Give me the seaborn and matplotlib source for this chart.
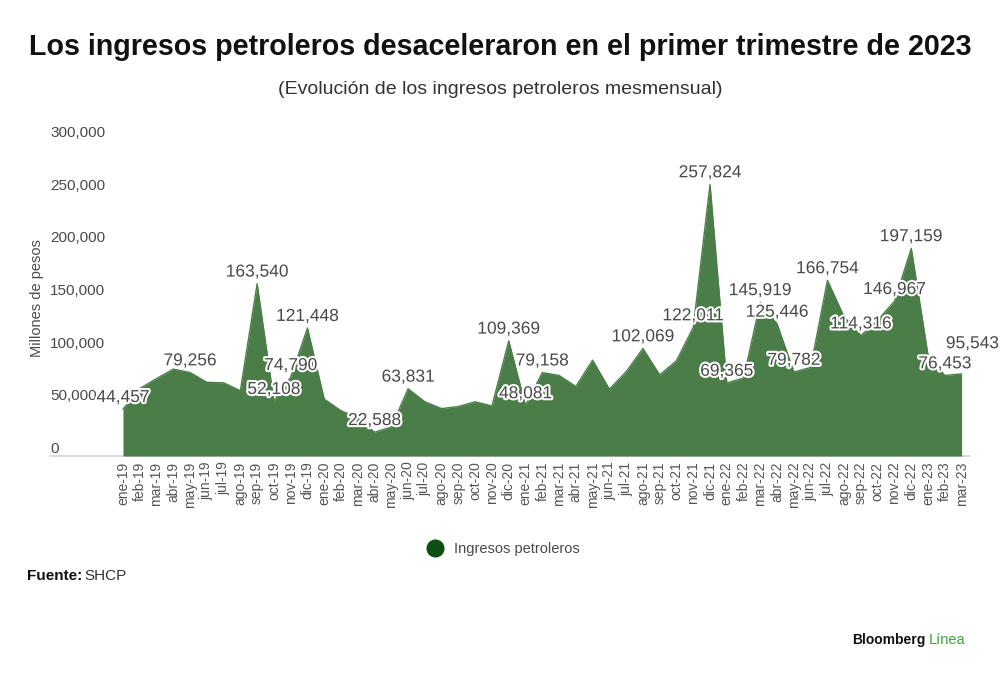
import matplotlib
matplotlib.use("Agg")
import seaborn as sns
import pandas as pd
from matplotlib import pyplot as plt
from matplotlib import patheffects as pe
from matplotlib.lines import Line2D

meses = ["ene-19", "feb-19", "mar-19", "abr-19", "may-19", "jun-19", "jul-19", "ago-19", "sep-19", "oct-19",
         "nov-19", "dic-19", "ene-20", "feb-20", "mar-20", "abr-20", "may-20", "jun-20", "jul-20", "ago-20",
         "sep-20", "oct-20", "nov-20", "dic-20", "ene-21", "feb-21", "mar-21", "abr-21", "may-21", "jun-21",
         "jul-21", "ago-21", "sep-21", "oct-21", "nov-21", "dic-21", "ene-22", "feb-22", "mar-22", "abr-22",
         "may-22", "jun-22", "jul-22", "ago-22", "sep-22", "oct-22", "nov-22", "dic-22", "ene-23", "feb-23",
         "mar-23"]
ingresos = [44457, 64000, 73500, 82500, 79256, 70000, 69500, 62000, 163540, 52108,
            74790, 121448, 54000, 43000, 36000, 22588, 27500, 63831, 51500, 45000,
            47000, 51500, 47500, 109369, 48081, 79158, 76500, 66000, 91000, 63500,
            80000, 102069, 77000, 90500, 122011, 257824, 69365, 74000, 145919, 125446,
            79782, 84000, 166754, 132000, 114316, 129000, 146967, 197159, 95543, 76453,
            78000]
# meses con etiqueta de valor (indice -> desplazamiento horizontal en puntos)
etiquetas = {0: 0, 4: 0, 8: 0, 9: 0, 10: 0, 11: 0, 15: 0, 17: 0, 23: 0, 24: 0, 25: 0,
             31: 0, 34: 0, 35: 0, 36: 0, 38: 0, 39: 0, 40: 0, 42: 0, 44: 0, 46: 0,
             47: 0, 48: 32, 49: 0}
yticks = [0, 50000, 100000, 150000, 200000, 250000, 300000]

verde_area = "#4b7d49"
verde_leyenda = "#0d4f12"
gris = "#4a4a4a"

df = pd.DataFrame({"mes": meses, "ingresos": ingresos})
df["pos"] = range(len(df))

sns.set_theme(style="white")
plt.rcParams["font.family"] = ["Liberation Sans", "DejaVu Sans"]

fig = plt.figure(figsize=(10, 6.76), dpi=100)
ax = fig.add_axes([0.05, 0.3254, 0.92, 0.4675])

sns.lineplot(data=df, x="pos", y="ingresos", color=verde_area, linewidth=1, ax=ax)
ax.fill_between(df["pos"], df["ingresos"], color=verde_area, linewidth=0)

for i, dx in etiquetas.items():
    ax.annotate(f"{ingresos[i]:,}", (i, ingresos[i]), xytext=(dx, 3), textcoords="offset points",
                ha="center", va="bottom", fontsize=12.5, color=gris, annotation_clip=False,
                path_effects=[pe.withStroke(linewidth=3, foreground="white")])

ax.set_xlim(-4.35, 50.5)
ax.set_ylim(0, 300000)
ax.axhline(0, color="#d4d4d4", linewidth=1.2, clip_on=False, zorder=0.5)
for s in ax.spines.values():
    s.set_visible(False)

ax.set_xticks(df["pos"])
ax.set_xticklabels(meses, rotation=90, fontsize=10, color="#555555")
ax.set_yticks(yticks)
ax.set_yticklabels([f"{v:,}" for v in yticks], fontsize=11, color=gris)
for lab in ax.get_yticklabels():
    lab.set_ha("left")
    lab.set_va("bottom")
ax.tick_params(axis="y", length=0, pad=0)
ax.tick_params(axis="x", length=0, pad=4)
ax.set_xlabel("")
ax.set_ylabel("Millones de pesos", fontsize=10.5, color=gris)
ax.yaxis.set_label_coords(-0.007, 0.5)

fig.text(0.5, 0.93, "Los ingresos petroleros desaceleraron en el primer trimestre de 2023",
         ha="center", va="center", fontsize=20.6, fontweight="bold", color="#111111")
fig.text(0.5, 0.867, "(Evolución de los ingresos petroleros mesmensual)",
         ha="center", va="center", fontsize=14, color="#333333")

handle = Line2D([], [], marker="o", linestyle="", markersize=12, color=verde_leyenda)
fig.legend([handle], ["Ingresos petroleros"], loc="center", bbox_to_anchor=(0.5, 0.188),
           frameon=False, fontsize=10.5, labelcolor=gris, handletextpad=0.3)

fig.text(0.027, 0.148, "Fuente:", ha="left", va="center", fontsize=11, fontweight="bold", color="#111111")
fig.text(0.084, 0.148, "SHCP", ha="left", va="center", fontsize=11, color="#333333")
fig.text(0.852, 0.053, "Bloomberg", ha="left", va="center", fontsize=10, fontweight="bold", color="#111111")
fig.text(0.929, 0.053, "Línea", ha="left", va="center", fontsize=10.5, color="#3aa83a")

fig.savefig("out.png", dpi=100)
